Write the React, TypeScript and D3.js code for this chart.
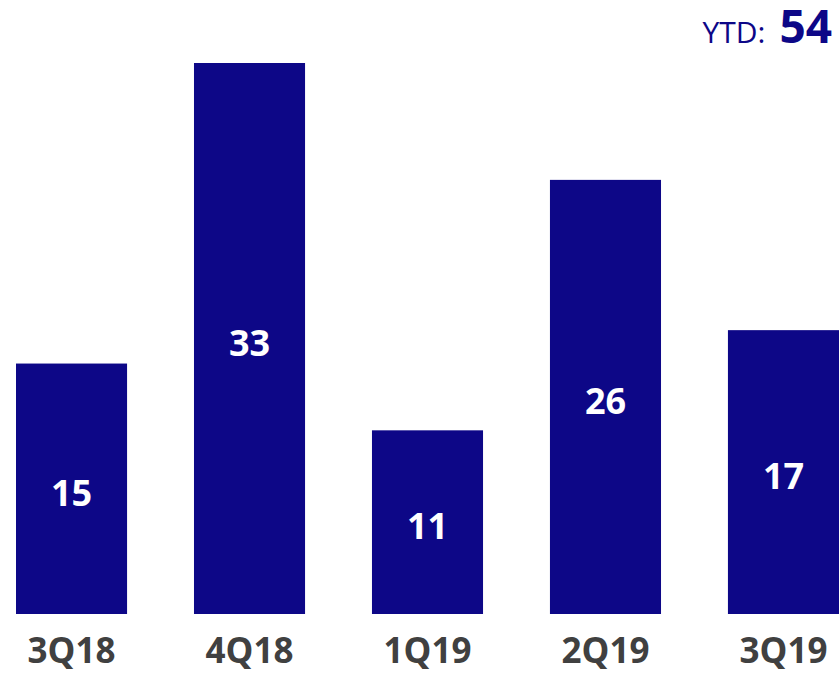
import React, { useEffect, useRef } from "react";
import { select, scaleBand, scaleLinear } from "d3";

const quarters = ["3Q18", "4Q18", "1Q19", "2Q19", "3Q19"];
const values = [15, 33, 11, 26, 17];
const ytdLabel = "YTD:";
const ytdValue = 54;

const W = 839;
const H = 674;

function App() {
  const svgRef = useRef<SVGSVGElement>(null);

  useEffect(() => {
    const svg = select(svgRef.current);
    svg.selectAll("*").remove();

    const x = scaleBand<string>()
      .domain(quarters)
      .range([16, 839])
      .paddingInner(0.376)
      .paddingOuter(0);
    const y = scaleLinear().domain([0, 33]).range([614, 63]);

    const font = "'Open Sans', sans-serif";

    svg
      .selectAll("rect.bar")
      .data(values)
      .join("rect")
      .attr("class", "bar")
      .attr("x", (d, i) => x(quarters[i]) as number)
      .attr("width", x.bandwidth())
      .attr("y", d => y(d))
      .attr("height", d => y(0) - y(d))
      .attr("fill", "#0d0787");

    // values in the bars
    svg
      .selectAll("text.val")
      .data(values)
      .join("text")
      .attr("class", "val")
      .attr("x", (d, i) => (x(quarters[i]) as number) + x.bandwidth() / 2)
      .attr("y", d => (y(d) + y(0)) / 2 + 17)
      .attr("text-anchor", "middle")
      .attr("fill", "#ffffff")
      .attr("font-family", font)
      .attr("font-weight", "bold")
      .attr("font-size", "36px")
      .text(d => d);

    // quarter labels
    svg
      .selectAll("text.cat")
      .data(quarters)
      .join("text")
      .attr("class", "cat")
      .attr("x", d => (x(d) as number) + x.bandwidth() / 2)
      .attr("y", 663)
      .attr("text-anchor", "middle")
      .attr("fill", "#404040")
      .attr("font-family", font)
      .attr("font-weight", "bold")
      .attr("font-size", "35px")
      .text(d => d);

    const ytd = svg
      .append("text")
      .attr("x", 832)
      .attr("y", 43)
      .attr("text-anchor", "end")
      .attr("fill", "#0d0787")
      .attr("font-family", font);
    ytd.append("tspan").attr("font-size", "30px").text(ytdLabel);
    ytd
      .append("tspan")
      .attr("dx", 14)
      .attr("font-size", "46px")
      .attr("font-weight", "bold")
      .text(ytdValue);
  }, []);

  return (
    <svg
      ref={svgRef}
      width={W}
      height={H}
      style={{ position: "absolute", left: 0, top: 0, background: "#fff" }}
    />
  );
}

export default App;
